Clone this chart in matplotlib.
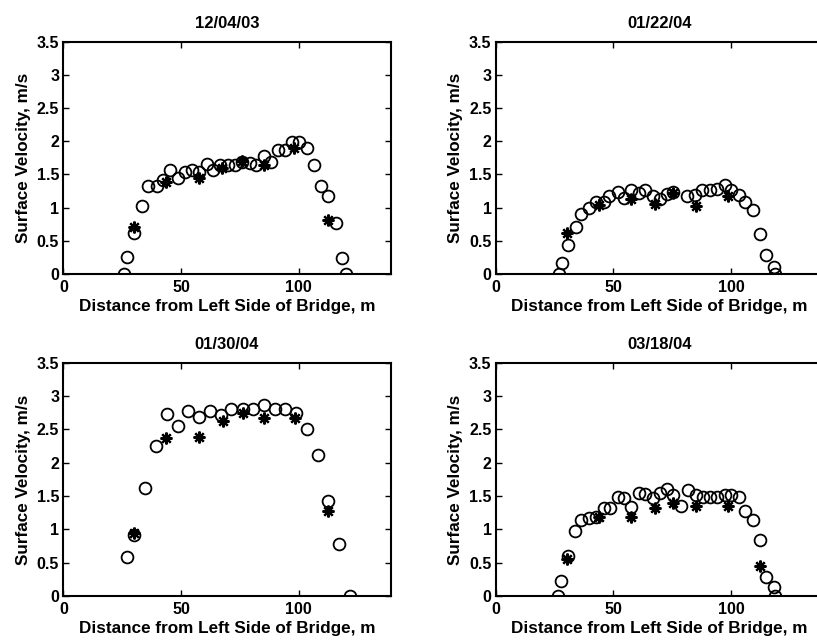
import matplotlib
matplotlib.use('Agg')
import matplotlib.pyplot as plt

plt.rcParams['font.family'] = ['Liberation Sans', 'DejaVu Sans']
plt.rcParams['font.weight'] = 'bold'

dates = ['12/04/03', '01/22/04', '01/30/04', '03/18/04']

# 12/04/03
circ_x_1 = [25.7, 27.2, 30.1, 33.2, 36.1, 39.6, 42.4, 45.5, 48.8, 51.6, 54.5, 57.6, 60.8,
            63.6, 66.5, 70.0, 72.8, 75.9, 79.2, 82.0, 85.1, 88.0, 91.2, 94.1, 97.3, 100.1,
            103.5, 106.4, 109.6, 112.4, 115.7, 118.5, 120.2]
circ_v_1 = [0.0, 0.26, 0.61, 1.02, 1.32, 1.32, 1.42, 1.57, 1.44, 1.54, 1.57, 1.54, 1.65,
            1.57, 1.64, 1.64, 1.64, 1.69, 1.67, 1.64, 1.77, 1.68, 1.86, 1.86, 1.98, 1.98,
            1.89, 1.64, 1.32, 1.18, 0.77, 0.24, 0.0]
star_x_1 = [30.1, 43.8, 57.6, 67.2, 75.9, 85.1, 98.0, 112.4]
star_v_1 = [0.70, 1.39, 1.44, 1.59, 1.70, 1.64, 1.89, 0.81]

# 01/22/04
circ_x_2 = [26.7, 28.0, 30.5, 34.0, 36.4, 39.6, 42.4, 45.9, 48.3, 51.8, 54.6, 57.4, 60.7,
            63.5, 66.7, 69.8, 72.9, 75.4, 81.3, 84.6, 87.8, 90.9, 94.0, 97.2, 100.0, 103.2,
            106.0, 109.1, 112.2, 114.7, 118.3, 118.7]
circ_v_2 = [0.0, 0.17, 0.43, 0.71, 0.91, 0.99, 1.09, 1.09, 1.18, 1.23, 1.14, 1.26, 1.22,
            1.26, 1.18, 1.13, 1.21, 1.23, 1.17, 1.19, 1.26, 1.26, 1.28, 1.34, 1.27, 1.19,
            1.09, 0.97, 0.60, 0.29, 0.10, 0.0]
star_x_2 = [30.2, 43.8, 57.4, 67.7, 75.4, 85.0, 98.6]
star_v_2 = [0.62, 1.04, 1.13, 1.06, 1.22, 1.02, 1.17]

# 01/30/04
circ_x_3 = [27.2, 30.1, 34.7, 39.3, 44.1, 48.8, 53.0, 57.6, 62.2, 66.8, 71.4, 76.1, 80.6,
            85.1, 89.8, 94.1, 98.6, 103.5, 108.2, 112.4, 117.1, 121.6]
circ_v_3 = [0.58, 0.92, 1.62, 2.25, 2.73, 2.55, 2.77, 2.69, 2.77, 2.72, 2.81, 2.81, 2.81,
            2.87, 2.81, 2.81, 2.75, 2.50, 2.12, 1.42, 0.78, 0.0]
star_x_3 = [30.1, 43.8, 57.6, 67.6, 76.1, 85.1, 98.3, 112.4]
star_v_3 = [0.94, 2.37, 2.39, 2.62, 2.75, 2.67, 2.67, 1.28]

# 03/18/04
circ_x_4 = [26.5, 27.7, 30.5, 33.6, 36.4, 39.6, 42.4, 45.9, 48.7, 51.8, 54.6, 57.4, 60.7,
            63.5, 66.7, 69.8, 72.9, 75.4, 78.9, 81.7, 85.0, 88.1, 90.9, 94.0, 97.2, 100.0,
            103.2, 106.0, 109.1, 112.2, 114.7, 118.0, 118.5]
circ_v_4 = [0.0, 0.22, 0.60, 0.97, 1.14, 1.17, 1.19, 1.32, 1.32, 1.49, 1.47, 1.33, 1.55,
            1.53, 1.47, 1.54, 1.60, 1.52, 1.35, 1.59, 1.52, 1.49, 1.49, 1.49, 1.52, 1.52,
            1.49, 1.27, 1.14, 0.84, 0.29, 0.14, 0.0]
star_x_4 = [30.2, 43.8, 57.4, 67.7, 75.4, 85.0, 98.6, 112.2]
star_v_4 = [0.55, 1.19, 1.19, 1.32, 1.40, 1.35, 1.35, 0.45]

panels = [
    (circ_x_1, circ_v_1, star_x_1, star_v_1),
    (circ_x_2, circ_v_2, star_x_2, star_v_2),
    (circ_x_3, circ_v_3, star_x_3, star_v_3),
    (circ_x_4, circ_v_4, star_x_4, star_v_4),
]

# axes boxes in figure fractions (right column runs past the edge, as in the source)
boxes = [
    [0.0775, 0.574, 0.4007, 0.3613],
    [0.6067, 0.574, 0.4007, 0.3613],
    [0.0775, 0.0731, 0.4007, 0.3626],
    [0.6067, 0.0731, 0.4007, 0.3626],
]

fig = plt.figure(figsize=(8.17, 6.43), dpi=100)

for box, title, (cx, cv, sx, sv) in zip(boxes, dates, panels):
    ax = fig.add_axes(box)
    ax.plot(cx, cv, 'o', mfc='none', mec='black', ms=8.5, mew=1.3)
    ax.plot(sx, sv, marker=(8, 2, 0), ls='none', color='black', ms=8.5, mew=1.6)
    ax.set_xlim(0, 139)
    ax.set_ylim(0, 3.5)
    ax.set_xticks([0, 50, 100])
    ax.set_yticks([0, 0.5, 1, 1.5, 2, 2.5, 3, 3.5])
    ax.set_yticklabels(['0', '0.5', '1', '1.5', '2', '2.5', '3', '3.5'])
    ax.tick_params(direction='in', top=True, right=True, length=4, width=1,
                   labelsize=11.5)
    ax.tick_params(axis='x', pad=4.5)
    ax.tick_params(axis='y', pad=3)
    for s in ax.spines.values():
        s.set_linewidth(1.5)
    ax.set_title(title, fontsize=12, fontweight='bold', pad=10)
    ax.set_xlabel('Distance from Left Side of Bridge, m', fontsize=12.3,
                  fontweight='bold', labelpad=3)
    ax.set_ylabel('Surface Velocity, m/s', fontsize=12.3, fontweight='bold', labelpad=4)

fig.savefig('out.png', dpi=100)
